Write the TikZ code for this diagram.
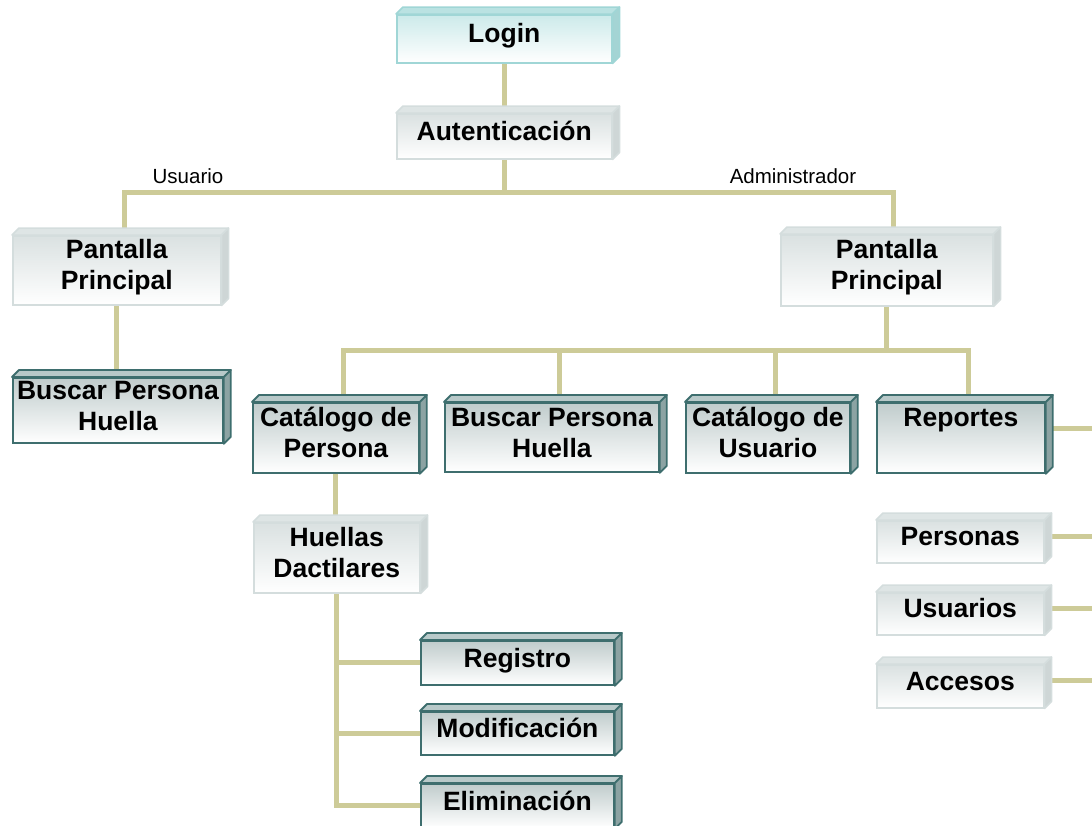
\documentclass[tikz,border=0pt]{standalone}
\usepackage{fontspec}
\setmainfont{Liberation Sans}
\usetikzlibrary{calc}
\pgfdeclarelayer{background}
\pgfsetlayers{background,main}

\definecolor{wirecol}{RGB}{205,203,152}
\definecolor{darkedge}{RGB}{62,110,110}
\definecolor{darkfront}{RGB}{192,204,204}
\definecolor{darklid}{RGB}{184,201,201}
\definecolor{darkside}{RGB}{140,163,163}
\definecolor{lightedge}{RGB}{212,221,221}
\definecolor{lightfront}{RGB}{218,225,225}
\definecolor{lightlid}{RGB}{222,229,229}
\definecolor{lightside}{RGB}{206,214,214}
\definecolor{cyanedge}{RGB}{160,214,214}
\definecolor{cyanfront}{RGB}{204,234,234}
\definecolor{cyanlid}{RGB}{186,226,226}
\definecolor{cyanside}{RGB}{164,212,212}

\tikzset{
  box/.style={rectangle, inner sep=0pt, anchor=north west,
    font=\fontsize{26.5}{31}\selectfont\bfseries},
  darkbox/.style={box, draw=darkedge, line width=1.8pt, top color=darkfront, bottom color=white},
  darkbox top/.style={draw=darkedge, line width=1.8pt, fill=darklid, line join=round},
  darkbox side/.style={draw=darkedge, line width=1.8pt, fill=darkside, line join=round},
  lightbox/.style={box, draw=lightedge, line width=1.5pt, top color=lightfront, bottom color=white},
  lightbox top/.style={draw=lightedge, line width=1.5pt, fill=lightlid, line join=round},
  lightbox side/.style={draw=lightedge, line width=1.5pt, fill=lightside, line join=round},
  cyanbox/.style={box, draw=cyanedge, line width=1.5pt, top color=cyanfront, bottom color=white},
  cyanbox top/.style={draw=cyanedge, line width=1.5pt, fill=cyanlid, line join=round},
  cyanbox side/.style={draw=cyanedge, line width=1.5pt, fill=cyanside, line join=round},
  wire/.style={draw=wirecol, line width=5pt},
  role/.style={font=\fontsize{20.5}{24}\selectfont}
}

% #1 name, #2 style, #3 x, #4 y (front face, top left), #5 width, #6 height, #7 text
\newcommand\slab[7]{%
  \node[#2, minimum width=#5pt, minimum height=#6pt] (#1) at (#3,#4)
    {\raisebox{2pt}[\height][\depth]{\begin{tabular}{@{}c@{}}#7\end{tabular}}};
  \path[#2 top] (#1.north west) -- ++(7pt,7pt) -- ([shift={(7pt,7pt)}]#1.north east)
    -- (#1.north east) -- cycle;
  \path[#2 side] (#1.north east) -- ++(7pt,7pt) -- ([shift={(7pt,7pt)}]#1.south east)
    -- (#1.south east) -- cycle;
}

\begin{document}
\begin{tikzpicture}[x=1pt,y=-1pt]
\useasboundingbox (0,0) rectangle (1092,825);

\slab{login}{cyanbox}{396}{14}{215}{48}{Login}
\slab{auth}{lightbox}{396}{113}{215}{45}{Autenticación}

\node[role] (roleU) at (188,176) {Usuario};
\node[role] (roleA) at (793,176) {Administrador};

\slab{ppL}{lightbox}{12}{235}{208}{69}{Pantalla\\Principal}
\slab{bhL}{darkbox}{12}{377}{210}{65}{Buscar Persona\\Huella}

\slab{ppR}{lightbox}{780}{234}{212}{71}{Pantalla\\Principal}
\slab{catP}{darkbox}{252}{402}{166}{70}{Catálogo de\\Persona}
\slab{bhM}{darkbox}{444}{402}{214}{69}{Buscar Persona\\Huella}
\slab{catU}{darkbox}{685}{402}{164}{70}{Catálogo de\\Usuario}
\slab{rep}{darkbox}{876}{402}{168}{70}{Reportes\\~}

\slab{hue}{lightbox}{253}{522}{166}{70}{Huellas\\Dactilares}
\slab{reg}{darkbox}{420}{640}{193}{44}{Registro}
\slab{mod}{darkbox}{420}{711}{193}{43}{Modificación}
\slab{eli}{darkbox}{420}{783}{193}{44}{Eliminación}

\slab{per}{lightbox}{876}{520}{167}{42}{Personas}
\slab{usu}{lightbox}{876}{592}{167}{42}{Usuarios}
\slab{acc}{lightbox}{876}{664}{167}{43}{Accesos}

\begin{pgfonlayer}{background}
  % main trunk
  \draw[wire] (login) -- (auth);
  \coordinate (busA) at (auth.south |- 0,192);
  \draw[wire] (auth.south) -- (busA);
  \draw[wire] ([xshift=8pt]ppL.north) |- (busA) -| ([xshift=7pt]ppR.north);
  % user branch
  \draw[wire] (ppL.south) -- (ppL.south |- bhL.north);
  % administrator branch
  \coordinate (busB) at (ppR.south |- 0,350);
  \draw[wire] (ppR.south) -- (busB);
  \draw[wire] ([xshift=8pt]catP.north) |- (busB) -| ([xshift=8pt]rep.north);
  \coordinate (bhMtop) at ([xshift=8pt]bhM.north);
  \coordinate (catUtop) at ([xshift=8pt]catU.north);
  \draw[wire] (bhMtop) -- (bhMtop |- busB);
  \draw[wire] (catUtop) -- (catUtop |- busB);
  % fingerprints
  \draw[wire] (catP.south) -- (catP.south |- hue.north);
  \draw[wire] (hue.south) |- (reg.west);
  \draw[wire] (hue.south) |- (mod.west);
  \draw[wire] (hue.south) |- (eli.west);
  % reports, running off to the right
  \draw[wire] ([yshift=9pt]rep.east) -- ++(60pt,0);
  \draw[wire] ([yshift=5pt]per.east) -- ++(60pt,0);
  \draw[wire] ([yshift=5pt]usu.east) -- ++(60pt,0);
  \draw[wire] ([yshift=6pt]acc.east) -- ++(60pt,0);
\end{pgfonlayer}
\end{tikzpicture}
\end{document}
